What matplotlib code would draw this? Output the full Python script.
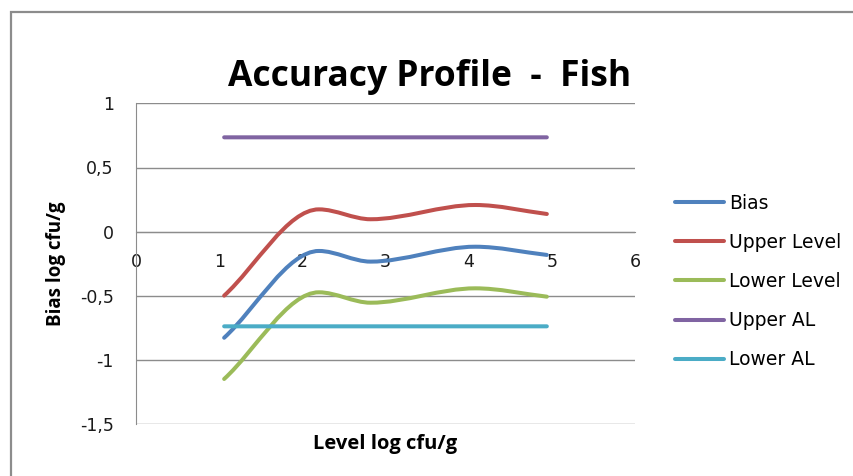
import matplotlib.pyplot as plt
import numpy as np
from matplotlib.path import Path
from matplotlib.patches import PathPatch, Rectangle
from matplotlib.lines import Line2D
from matplotlib.ticker import FuncFormatter

plt.rcParams['font.family'] = ['DejaVu Sans']

# data
levels = [1.06, 2.2, 2.82, 4.08, 4.94]
bias = [-0.826, -0.150, -0.233, -0.117, -0.181]
upper_level = [-0.498, 0.174, 0.097, 0.208, 0.138]
lower_level = [-1.147, -0.472, -0.553, -0.441, -0.506]
upper_al = [0.735, 0.735, 0.735, 0.735, 0.735]
lower_al = [-0.737, -0.737, -0.737, -0.737, -0.737]

series_names = ['Bias', 'Upper Level', 'Lower Level', 'Upper AL', 'Lower AL']
colors = ['#4F81BD', '#C0504D', '#9BBB59', '#8064A2', '#4BACC6']
x_ticks = [0, 1, 2, 3, 4, 5, 6]
y_ticks = [-1.5, -1, -0.5, 0, 0.5, 1]


def smooth_path(xs, ys):
    # smoothed line drawn as cubic bezier segments through the points
    x = np.asarray(xs, float)
    y = np.asarray(ys, float)
    h = np.diff(x)
    d = np.diff(y) / h
    m = np.zeros(len(x))
    m[0], m[-1] = d[0], d[-1]
    for i in range(1, len(x) - 1):
        if d[i - 1] * d[i] > 0:
            w1 = 2 * h[i] + h[i - 1]
            w2 = h[i] + 2 * h[i - 1]
            m[i] = (w1 + w2) / (w1 / d[i - 1] + w2 / d[i])
    verts = [(x[0], y[0])]
    codes = [Path.MOVETO]
    for i in range(len(x) - 1):
        verts += [(x[i] + h[i] / 3, y[i] + m[i] * h[i] / 3),
                  (x[i + 1] - h[i] / 3, y[i + 1] - m[i + 1] * h[i] / 3),
                  (x[i + 1], y[i + 1])]
        codes += [Path.CURVE4] * 3
    return Path(verts, codes)


fig = plt.figure(figsize=(8.54, 4.76), dpi=100)
ax = fig.add_axes([136 / 854, 1 - 424.3 / 476, 499 / 854, 321 / 476])

all_series = [bias, upper_level, lower_level, upper_al, lower_al]
handles = []
for name, ys, col in zip(series_names, all_series, colors):
    patch = PathPatch(smooth_path(levels, ys), facecolor='none', edgecolor=col,
                      lw=2.9, capstyle='round', zorder=3)
    ax.add_patch(patch)
    handles.append(Line2D([], [], color=col, lw=2.9, solid_capstyle='round', label=name))

ax.set_xlim(0, 6)
ax.set_ylim(-1.5, 1)
ax.set_xticks(x_ticks)
ax.set_yticks(y_ticks)
ax.yaxis.set_major_formatter(FuncFormatter(lambda v, _: ('%g' % v).replace('.', ',')))
ax.grid(axis='y', color='#8c8c8c', lw=1.0)
ax.set_axisbelow(True)

for s in ['top', 'right']:
    ax.spines[s].set_visible(False)
ax.spines['bottom'].set_position(('data', 0))
ax.spines['bottom'].set_color('#8c8c8c')
ax.spines['left'].set_color('#8c8c8c')
ax.tick_params(axis='both', length=0, labelsize=12.5, colors='#1a1a1a')
ax.tick_params(axis='x', pad=15)
ax.tick_params(axis='y', pad=16)

fig.text(0.503, 1 - 86 / 476, 'Accuracy Profile  -  Fish', ha='center', va='baseline',
         fontsize=25.5, fontweight='bold', family='Open Sans')
fig.text(56 / 854, 1 - 264 / 476, 'Bias log cfu/g', rotation=90, ha='center', va='center',
         fontsize=13.5, fontweight='bold', family='Open Sans')
fig.text(385 / 854, 1 - 449 / 476, 'Level log cfu/g', ha='center', va='baseline',
         fontsize=14.5, fontweight='bold', family='Open Sans')

fig.legend(handles=handles, loc='center left', bbox_to_anchor=(675 / 854, 1 - 281.5 / 476),
           frameon=False, fontsize=13.5, handlelength=2.6, handletextpad=0.3,
           labelspacing=1.07, borderpad=0, borderaxespad=0)

fig.patches.append(Rectangle((11 / 854, -0.1), 1.2, 1.1 - 12 / 476, transform=fig.transFigure,
                             facecolor='none', edgecolor='#8c8c8c', lw=1.6))

fig.savefig('out.png', dpi=100)
